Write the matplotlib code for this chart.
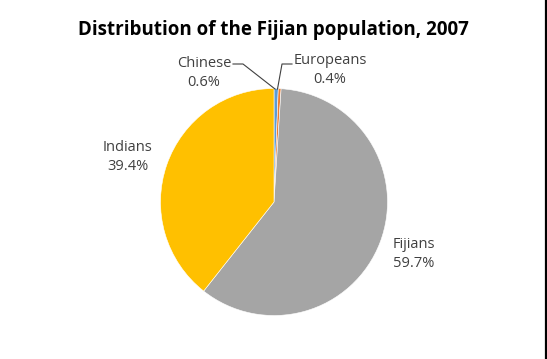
import matplotlib.pyplot as plt
from matplotlib.lines import Line2D

groups = ['Chinese', 'Europeans', 'Fijians', 'Indians']
shares = [0.6, 0.4, 59.7, 39.4]
colours = ['#5b9bd5', '#ed7d31', '#a5a5a5', '#ffc000']

plt.rcParams['font.family'] = ['Open Sans', 'DejaVu Sans']

fig = plt.figure(figsize=(5.47, 3.59), dpi=100)
W, H = 547, 359

# pie axes placed in pixels: centre (274, 202), radius ~113.5
r = 113.5
cx, cy = 274, 202
ax = fig.add_axes([(cx - r) / W, 1 - (cy + r) / H, 2 * r / W, 2 * r / H])
ax.pie(shares, colors=colours, startangle=90, counterclock=False,
       wedgeprops=dict(linewidth=0.4, edgecolor='white'))
ax.set_aspect('auto')
ax.set_xlim(-1, 1)
ax.set_ylim(-1, 1)

fig.text(273 / W, 1 - 30 / H, 'Distribution of the Fijian population, 2007',
         ha='center', va='center', fontsize=13.5, fontweight='bold')


def lab(x, y, name, val):
    fig.text(x / W, 1 - y / H, name + '\n' + '{:.1f}%'.format(val),
             ha='center', va='center', fontsize=10.5, color='#404040',
             linespacing=1.35)


lab(204, 73, groups[0], shares[0])
lab(330, 70, groups[1], shares[1])
lab(414, 254, groups[2], shares[2])
lab(128, 157, groups[3], shares[3])


def px_line(xs, ys, c):
    fig.add_artist(Line2D([x / W for x in xs], [1 - y / H for y in ys],
                          color=c, linewidth=0.8, transform=fig.transFigure))


px_line([233, 243, 275], [64, 64, 89], '#404040')
px_line([292, 282, 277.5], [64, 64, 89], '#404040')

# right frame edge
fig.add_artist(Line2D([545.5 / W, 545.5 / W], [0, 1], color='black',
                      linewidth=1.6, transform=fig.transFigure))

fig.savefig('out.png', dpi=100)
